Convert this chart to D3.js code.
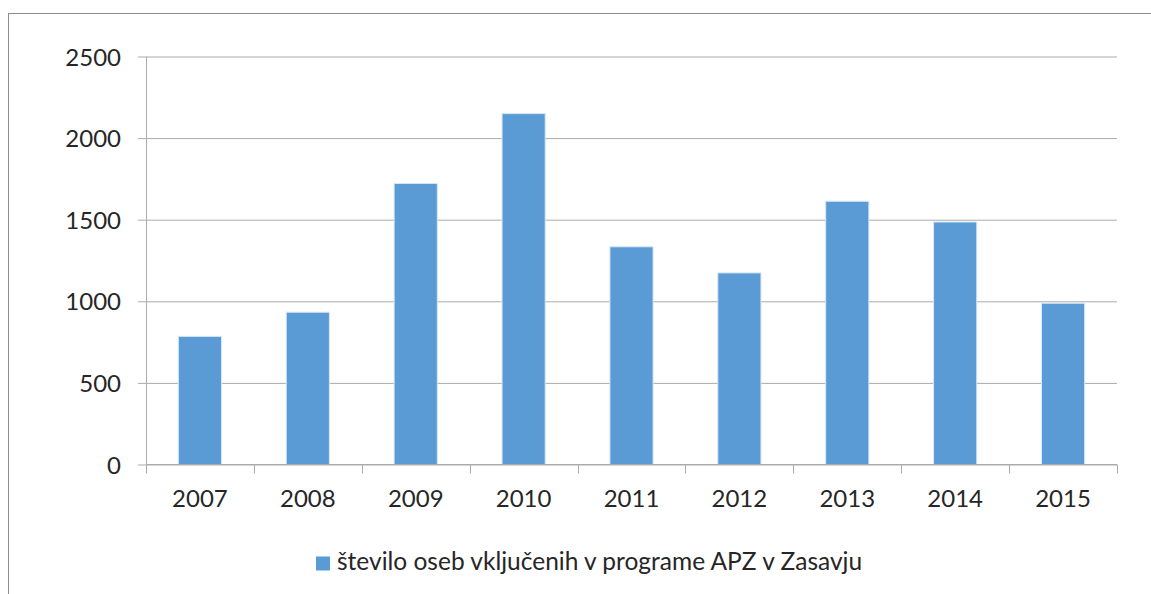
<!DOCTYPE html>
<html>
<head>
<meta charset="utf-8">
<script src="https://cdn.jsdelivr.net/npm/d3@7"></script>
<style>
  body { margin: 0; background: #fff; }
  text { font-family: Lato, "Open Sans", sans-serif; fill: #262626; }
</style>
</head>
<body>
<svg id="chart" width="1151" height="594"></svg>
<script>
var years = ["2007", "2008", "2009", "2010", "2011", "2012", "2013", "2014", "2015"];
var persons = [785, 933, 1722, 2150, 1334, 1174, 1613, 1486, 988];
var yTicks = [0, 500, 1000, 1500, 2000, 2500];
var seriesName = "število oseb vključenih v programe APZ v Zasavju";

var svg = d3.select("#chart"),
  plotLeft = 146, plotRight = 1117, plotTop = 56.5, plotBottom = 464.5;

// outer chart border (runs off the right and bottom of the picture)
svg.append("rect")
  .attr("x", 8.5).attr("y", 13.5)
  .attr("width", 1200).attr("height", 700)
  .attr("fill", "none")
  .attr("stroke", "#8c8c8c");

var x = d3.scaleBand()
  .domain(years)
  .range([plotLeft, plotRight])
  .paddingInner(0.6)
  .paddingOuter(0.3);

var y = d3.scaleLinear()
  .domain([0, 2500])
  .range([plotBottom, plotTop]);

// gridlines + y labels
var yAxis = svg.append("g")
  .attr("transform", "translate(" + plotLeft + ",0)")
  .call(d3.axisLeft(y).tickValues(yTicks).tickFormat(d3.format("d"))
    .tickSize(8).tickSizeOuter(0).tickPadding(17));
yAxis.select(".domain").remove();
yAxis.selectAll(".tick line").attr("stroke", "#ababab")
  .attr("x2", plotRight - plotLeft).attr("x1", -8);
yAxis.selectAll(".tick text")
  .style("font-size", "24px")
  .attr("dy", "0.36em");

svg.append("line")
  .attr("x1", plotLeft + 0.5).attr("x2", plotLeft + 0.5)
  .attr("y1", plotTop).attr("y2", plotBottom)
  .attr("stroke", "#ababab");

// bars
svg.append("g").selectAll("rect")
  .data(persons)
  .enter().append("rect")
  .attr("x", function (d, i) { return x(years[i]); })
  .attr("y", function (d) { return y(d); })
  .attr("width", x.bandwidth())
  .attr("height", function (d) { return y(0) - y(d); })
  .attr("fill", "#5b9bd5")
  .attr("stroke", "#d6e6f5")
  .attr("stroke-width", 1);

// x axis with ticks between categories
var xAxis = svg.append("g")
  .attr("transform", "translate(0," + plotBottom + ")");
xAxis.append("line")
  .attr("x1", plotLeft).attr("x2", plotRight)
  .attr("stroke", "#ababab");
xAxis.selectAll(".sep")
  .data(d3.range(years.length + 1))
  .enter().append("line")
  .attr("class", "sep")
  .attr("x1", function (i) { return Math.round(plotLeft + i * x.step()) + 0.5; })
  .attr("x2", function (i) { return Math.round(plotLeft + i * x.step()) + 0.5; })
  .attr("y1", 0).attr("y2", 9)
  .attr("stroke", "#ababab");
xAxis.selectAll(".lbl")
  .data(years)
  .enter().append("text")
  .attr("class", "lbl")
  .attr("x", function (d) { return x(d) + x.bandwidth() / 2; })
  .attr("y", 42)
  .attr("text-anchor", "middle")
  .style("font-size", "24px")
  .text(function (d) { return d; });

// legend
var legend = svg.append("g").attr("transform", "translate(316,556.5)");
legend.append("rect")
  .attr("width", 14).attr("height", 14)
  .attr("fill", "#5b9bd5");
legend.append("text")
  .attr("x", 21).attr("y", 13)
  .style("font-size", "24.5px")
  .text(seriesName);
</script>
</body>
</html>
